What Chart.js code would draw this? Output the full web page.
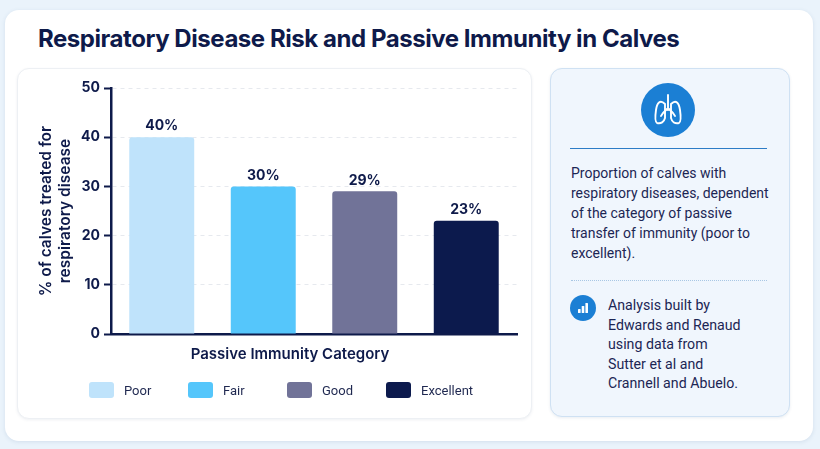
<!DOCTYPE html>
<html>
<head>
<meta charset="utf-8">
<script src="https://cdn.jsdelivr.net/npm/chart.js@4.4.1/dist/chart.umd.min.js"></script>
<style>
  html, body { margin: 0; padding: 0; }
  body {
    width: 820px; height: 449px; overflow: hidden; position: relative;
    background: #eaf3fb; font-family: Inter, "Noto Sans", sans-serif; color: #0e1a4a;
  }
  .outer {
    position: absolute; left: 5px; top: 10px; width: 808px; height: 431px;
    background: #fff; border-radius: 14px; box-shadow: 0 1px 4px rgba(40, 80, 130, 0.12);
  }
  h1 {
    position: absolute; left: 38px; top: 24px; margin: 0;
    font-size: 24px; font-weight: 700; letter-spacing: -0.45px; color: #0e1a4a;
  }
  .chart-card {
    position: absolute; left: 17px; top: 68px; width: 513px; height: 349px;
    border: 1px solid #edf0f4; border-radius: 12px; background: #fff;
    box-shadow: 0 1px 3px rgba(40, 60, 100, 0.08);
  }
  .chart-wrap { position: absolute; left: 17px; top: 68px; width: 515px; height: 350px; }
  .legend {
    position: absolute; left: 89px; top: 382px; display: flex;
  }
  .legend .item { width: 99px; display: flex; align-items: center; font-family: Roboto, sans-serif; font-size: 13px; color: #1f2850; }
  .legend .box { width: 25px; height: 16px; border-radius: 3px; margin-right: 10px; }
  .side {
    position: absolute; left: 550px; top: 68px; width: 238px; height: 347px;
    background: #f0f6fd; border: 1px solid #cfe1f3; border-radius: 12px;
    box-shadow: 0 1px 3px rgba(40, 80, 130, 0.10);
  }
  .icon {
    position: absolute; left: 641px; top: 83px; width: 54px; height: 54px;
    border-radius: 50%; background: #1b7fd4;
  }
  .rule { position: absolute; left: 570px; top: 148px; width: 197px; height: 0; border-top: 1.5px solid #2d7cc6; }
  .dots { position: absolute; left: 571px; top: 280px; width: 196px; height: 0; border-top: 1px dotted #a9c7e4; }
  .txt { position: absolute; margin: 0; font-family: Roboto, sans-serif; color: #1c2654; }
  .p1 { left: 571px; top: 163px; font-size: 14px; line-height: 20px; }
  .p2 { left: 608px; top: 296px; font-size: 14.2px; line-height: 19.5px; }
  .icon2 {
    position: absolute; left: 570px; top: 295px; width: 26px; height: 26px;
    border-radius: 50%; background: #1b7fd4;
  }
</style>
</head>
<body>
<div class="outer"></div>
<h1>Respiratory Disease Risk and Passive Immunity in Calves</h1>
<div class="chart-card"></div>
<div class="chart-wrap"><canvas id="chart"></canvas></div>
<div class="legend" id="legend"></div>

<div class="side"></div>
<div class="icon">
  <svg width="54" height="54" viewBox="0 0 54 54" fill="none" stroke="#fff" stroke-width="1.9" stroke-linecap="round" stroke-linejoin="round">
    <path d="M27 12 V27 M27 25 L22 30 M27 25 L32 30 M22 30 L20 33 M32 30 L34 33"/>
    <path d="M24 21 C19 16 16 20 15 27 C14 34 14 39 16 40 C20 41 23 39 24 35 Z"/>
    <path d="M30 21 C35 16 38 20 39 27 C40 34 40 39 38 40 C34 41 31 39 30 35 Z"/>
  </svg>
</div>
<div class="rule"></div>
<p class="txt p1">Proportion of calves with<br>respiratory diseases, dependent<br>of the category of passive<br>transfer of immunity (poor to<br>excellent).</p>
<div class="dots"></div>
<div class="icon2">
  <svg width="26" height="26" viewBox="0 0 26 26" fill="#fff">
    <rect x="8" y="14" width="2.6" height="4" rx="0.6"/>
    <rect x="11.7" y="11" width="2.6" height="7" rx="0.6"/>
    <rect x="15.4" y="8" width="2.6" height="10" rx="0.6"/>
  </svg>
</div>
<p class="txt p2">Analysis built by<br>Edwards and Renaud<br>using data from<br>Sutter et al and<br>Crannell and Abuelo.</p>

<script>
const categories = ['Poor', 'Fair', 'Good', 'Excellent'];
const treatedPct = [40, 30, 29, 23];
const barColors = ['#bfe3fb', '#55c6fb', '#717398', '#0c1a4d'];
const yTicks = [0, 10, 20, 30, 40, 50];
const xTitle = 'Passive Immunity Category';

const navy = '#0e1a4a';

// labels above each bar, plus the x axis title (sits a bit left of centre)
const valueLabels = {
  id: 'valueLabels',
  afterDatasetsDraw(chart) {
    const ctx = chart.ctx;
    const meta = chart.getDatasetMeta(0);
    const area = chart.chartArea;
    ctx.save();
    ctx.font = '700 14px Inter, sans-serif';
    ctx.fillStyle = navy;
    ctx.textAlign = 'center';
    ctx.textBaseline = 'middle';
    meta.data.forEach((bar, i) => {
      ctx.fillText(treatedPct[i] + '%', bar.x, bar.y - 11);
    });
    ctx.font = '600 15px Inter, sans-serif';
    ctx.fillText(xTitle, (area.left + area.right) / 2 - 24, area.bottom + 20);
    ctx.restore();
  }
};

const chart = new Chart(document.getElementById('chart'), {
  type: 'bar',
  data: {
    labels: categories,
    datasets: [{
      label: '% treated',
      data: treatedPct,
      backgroundColor: barColors,
      borderRadius: 3,
      borderSkipped: 'bottom',
      barPercentage: 0.8,
      categoryPercentage: 0.8
    }]
  },
  options: {
    responsive: true,
    maintainAspectRatio: false,
    animation: false,
    layout: { padding: { top: 20, right: 15, left: 0, bottom: 54 } },
    plugins: {
      legend: { display: false },
      tooltip: { enabled: false }
    },
    scales: {
      x: {
        ticks: { display: false },
        grid: { display: false },
        border: { color: navy, width: 2.5 },
        afterFit(scale) { scale.height = 30; }
      },
      y: {
        min: 0,
        max: 50,
        afterBuildTicks(scale) { scale.ticks = yTicks.map(v => ({ value: v })); },
        ticks: {
          color: navy,
          padding: 4,
          font: { family: 'Inter', size: 14, weight: '700' }
        },
        grid: {
          color: c => (c.tick && c.tick.value === 0 ? 'rgba(0,0,0,0)' : '#e6e9ee'),
          lineWidth: 1,
          tickColor: navy,
          tickWidth: 2,
          tickLength: 7
        },
        border: { color: navy, width: 2.5, dash: [4, 4] },
        title: {
          display: true,
          text: ['% of calves treated for', 'respiratory disease'],
          color: navy,
          font: { family: 'Inter', size: 15.5, weight: '600' },
          padding: { top: 20, bottom: 0 }
        },
        afterFit(scale) { scale.width = 94; }
      }
    }
  },
  plugins: [valueLabels]
});

// legend built from the chart data
const legendEl = document.getElementById('legend');
chart.data.labels.forEach((name, i) => {
  const item = document.createElement('div');
  item.className = 'item';
  item.innerHTML = `<span class="box" style="background:${chart.data.datasets[0].backgroundColor[i]}"></span>${name}`;
  legendEl.appendChild(item);
});
</script>
</body>
</html>
